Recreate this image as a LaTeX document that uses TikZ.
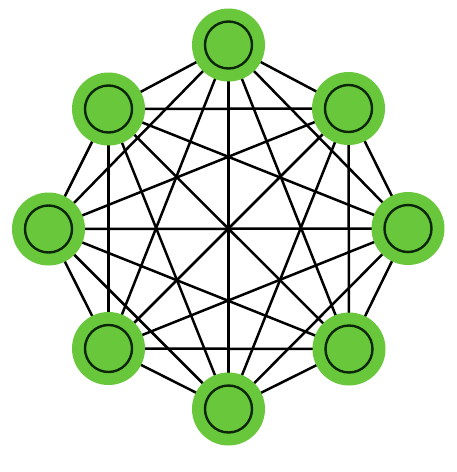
\documentclass[tikz,border=0pt]{standalone}
\definecolor{ngreen}{RGB}{104,199,58}
\definecolor{nring}{RGB}{12,38,10}
\begin{document}
\begin{tikzpicture}[x=1pt,y=-1pt,
  vertex/.style={circle,fill=ngreen,minimum size=73pt,inner sep=0pt,
    path picture={\draw[nring,line width=2.4pt] (path picture bounding box.center) circle (23.5pt);}},
  edge/.style={line width=2.5pt,black}]
\useasboundingbox (0,0) rectangle (456,472);
\coordinate (p1) at (228.5,45);
\coordinate (p2) at (348.5,108.5);
\coordinate (p3) at (408,228.5);
\coordinate (p4) at (349,349);
\coordinate (p5) at (228.5,409);
\coordinate (p6) at (108.5,348.5);
\coordinate (p7) at (48.5,229);
\coordinate (p8) at (108.5,109);
\foreach \i in {1,...,8}{
  \foreach \j in {1,...,8}{
    \ifnum\i<\j \draw[edge] (p\i) -- (p\j); \fi
  }
}
\foreach \i in {1,...,8}{
  \node[vertex] (n\i) at (p\i) {};
}
\end{tikzpicture}
\end{document}
